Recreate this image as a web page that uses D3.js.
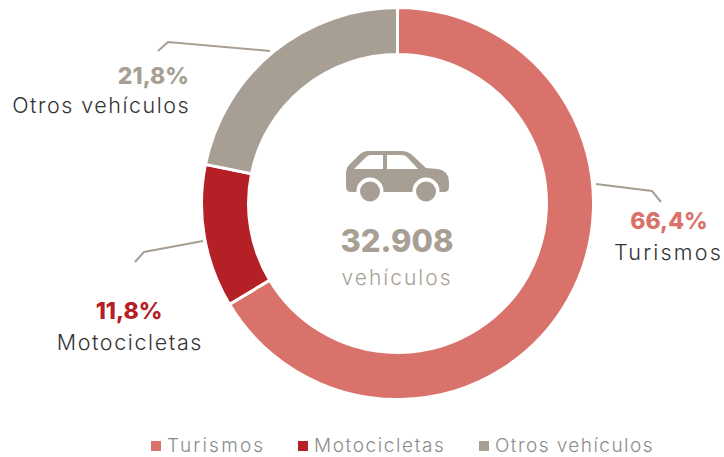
<!DOCTYPE html>
<html>
<head>
<meta charset="utf-8">
<script src="https://cdn.jsdelivr.net/npm/d3@7"></script>
<style>
	html, body { margin: 0; padding: 0; background: #fff; }
	svg { display: block; }
	text { font-family: Inter, "Open Sans", sans-serif; }
</style>
</head>
<body>
<svg id="chart" width="724" height="457"></svg>
<script>
//data
var categories = ['Turismos', 'Motocicletas', 'Otros vehículos'];
var shares = [66.4, 11.8, 21.8];
var shareLabels = ['66,4%', '11,8%', '21,8%'];
var colors = ['#d9726b', '#b51f26', '#a89f94'];
var totalLabel = '32.908';
var totalUnit = 'vehículos';

var svg = d3.select('#chart');

//donut
var pie = d3.pie().sort(null).value(d => d);
var arc = d3.arc().innerRadius(149).outerRadius(196);
var donut = svg.append('g').attr('transform', 'translate(397.5,203.5)');
donut.selectAll('path')
	.data(pie(shares))
	.join('path')
	.attr('d', arc)
	.attr('fill', (d, i) => colors[i])
	.attr('stroke', '#fff')
	.attr('stroke-width', 3);

//leader lines and labels
var callouts = [
	{line: [[596,184],[652,191],[661,202]], pctX: 669, pctY: 229, pctAnchor: 'middle', nameX: 723, nameY: 260, nameAnchor: 'end', spacing: 2.2},
	{line: [[203,241],[144,252],[135,262]], pctX: 129, pctY: 319, pctAnchor: 'middle', nameX: 203, nameY: 350, nameAnchor: 'end', spacing: 1.6},
	{line: [[270,51],[168,42],[158,51]], pctX: 189, pctY: 84, pctAnchor: 'end', nameX: 190, nameY: 113, nameAnchor: 'end', spacing: 1.5}
];
var lineGen = d3.line();
callouts.forEach(function(c, i) {
	svg.append('path')
		.attr('d', lineGen(c.line))
		.attr('fill', 'none')
		.attr('stroke', '#a89f94')
		.attr('stroke-width', 2);
	svg.append('text')
		.attr('x', c.pctX)
		.attr('y', c.pctY)
		.attr('text-anchor', c.pctAnchor)
		.attr('fill', colors[i])
		.attr('font-size', 23)
		.attr('font-weight', 800)
		.text(shareLabels[i]);
	svg.append('text')
		.attr('x', c.nameX)
		.attr('y', c.nameY)
		.attr('text-anchor', c.nameAnchor)
		.attr('fill', '#333')
		.attr('font-size', 21.5)
		.attr('font-weight', 300)
		.style('letter-spacing', c.spacing + 'px')
		.text(categories[i]);
});

//car icon
var car = svg.append('g');
car.append('path')
	.attr('d', 'M351,192 Q346,192 346,186 L346,172 Q346,168 349,165 L359,155 Q363,151 368,151 L402,151 Q407,151 411,154 L426,168 L438,169 Q449,171 449,182 L449,187 Q449,192 444,192 Z')
	.attr('fill', '#a89f94');
car.append('path')
	.attr('d', 'M354,169 L366,157 Q368,155 371,155 L383,155 L383,169 Z M387,155 L402,155 Q405,155 407,157 L418,169 L387,169 Z')
	.attr('fill', '#fff');
[370, 426].forEach(function(cx) {
	car.append('circle').attr('cx', cx).attr('cy', 191).attr('r', 13.5).attr('fill', '#fff');
	car.append('circle').attr('cx', cx).attr('cy', 191.5).attr('r', 10).attr('fill', '#a89f94');
});

//center text
svg.append('text')
	.attr('x', 397)
	.attr('y', 252)
	.attr('text-anchor', 'middle')
	.attr('fill', '#a89f94')
	.attr('font-size', 31)
	.attr('font-weight', 800)
	.text(totalLabel);
svg.append('text')
	.attr('x', 397)
	.attr('y', 285)
	.attr('text-anchor', 'middle')
	.attr('fill', '#a89f94')
	.attr('font-size', 21)
	.attr('font-weight', 300)
	.style('letter-spacing', '2px')
	.text(totalUnit);

//legend
var legendX = [151, 298, 479];
var legendSpacing = [2.2, 1.6, 1.45];
var legend = svg.selectAll('.legendItem')
	.data(categories)
	.join('g')
	.classed('legendItem', true)
	.attr('transform', (d, i) => `translate(${legendX[i]},441)`);
legend.append('rect')
	.attr('width', 10)
	.attr('height', 10)
	.attr('fill', (d, i) => colors[i]);
legend.append('text')
	.attr('x', 16)
	.attr('y', 11)
	.attr('fill', '#8c8c8c')
	.attr('font-size', 19)
	.attr('font-weight', 300)
	.style('letter-spacing', (d, i) => legendSpacing[i] + 'px')
	.text(d => d);
</script>
</body>
</html>
